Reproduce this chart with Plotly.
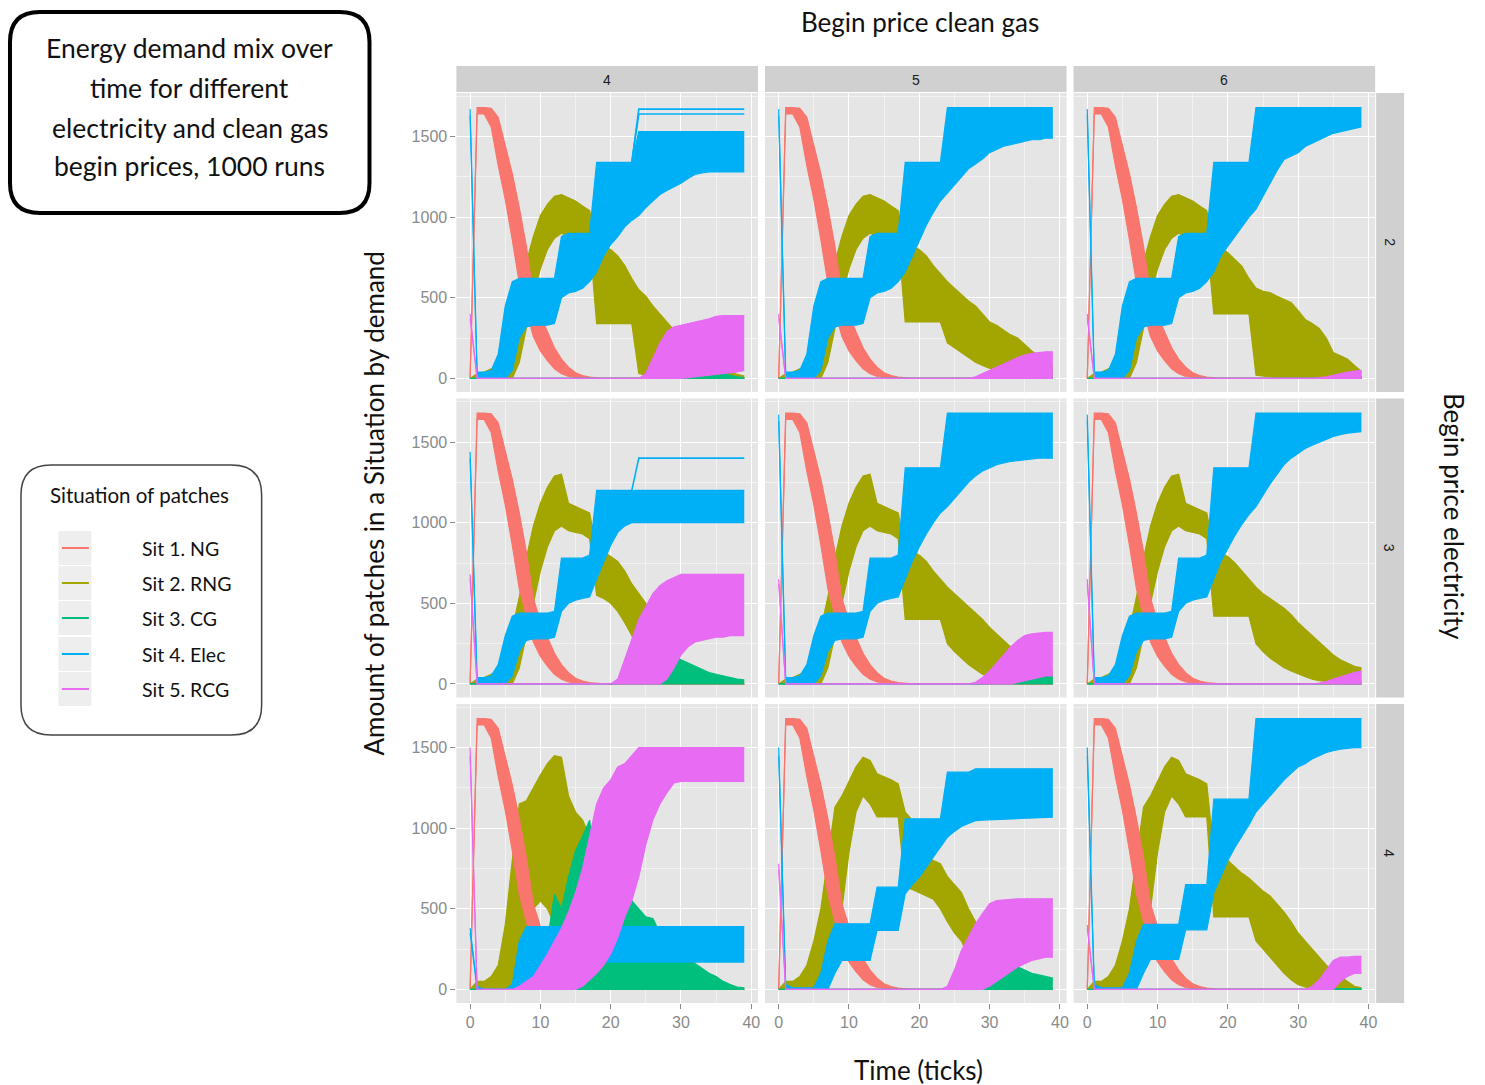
import plotly.graph_objects as go

W, H = 1485, 1085

# ---------------------------------------------------------------- data
TICKS = list(range(40))
ELEC_PRICES = ["2", "3", "4"]          # facet rows
GAS_PRICES = ["4", "5", "6"]           # facet columns
SITUATIONS = ["Sit 1. NG", "Sit 2. RNG", "Sit 3. CG", "Sit 4. Elec", "Sit 5. RCG"]
SIT_KEYS = ["NG", "RNG", "CG", "ELEC", "RCG"]
COLORS = ["#F8766D", "#A3A500", "#00BF7D", "#00B0F6", "#E76BF3"]
DRAW_ORDER = ["RNG", "NG", "CG", "ELEC", "RCG"]
X_TICKS = [0, 10, 20, 30, 40]
Y_TICKS = [0, 500, 1000, 1500]

# Natural gas: same envelope (lowest / highest run) in every panel
NG_HI = [0, 1680, 1680, 1675, 1620, 1450, 1270, 1060, 820, 530,
         390, 290, 190, 120, 70, 35, 18, 8, 2, 0] + [0] * 20
NG_LO = [0, 1640, 1640, 1560, 1320, 1110, 860, 590, 420, 260,
         170, 110, 60, 30, 12, 4, 0, 0, 0, 0] + [0] * 20

# ---- electricity begin price 2: first 18 ticks shared by the columns
E2_ELEC_HI_0 = [1670, 40, 40, 50, 150, 450, 600, 620, 620, 620, 620, 620, 620, 880, 900, 900, 900, 900]
E2_ELEC_LO_0 = [1630, 0, 0, 0, 0, 0, 50, 250, 320, 330, 330, 330, 340, 500, 530, 540, 560, 600]
E2_RNG_HI_0 = [0, 30, 40, 60, 80, 180, 330, 520, 720, 880, 1010, 1080, 1130, 1140, 1120, 1100, 1070, 1040]
E2_RNG_LO_0 = [0, 0, 0, 0, 0, 0, 0, 100, 300, 520, 680, 800, 870, 900, 880, 880, 880, 870]

E2G4_ELEC_HI = E2_ELEC_HI_0 + [1340] * 6 + [1530] * 16
E2G4_ELEC_LO = E2_ELEC_LO_0 + [660, 760, 830, 880, 940, 980,
                               1010, 1060, 1100, 1140, 1165, 1185, 1210, 1240, 1265, 1275,
                               1280, 1280, 1280, 1280, 1280, 1280]
E2G4_ELEC_TOP = [None] * 23 + [1340] + [1670] * 16
E2G4_ELEC_TOP2 = [None] * 23 + [1340] + [1640] * 16
E2G4_RNG_HI = E2_RNG_HI_0 + [830, 820, 800, 760, 700, 620, 550, 510, 450, 400, 350,
                             300, 260, 240, 200, 170, 130, 100, 70, 40, 25, 15]
E2G4_RNG_LO = E2_RNG_LO_0 + [340] * 6 + [30, 20, 10, 5] + [0] * 12
E2G4_CG_HI = [0] * 30 + [20, 30, 40, 50, 60, 50, 40, 20, 10, 5]
E2G4_CG_LO = [0] * 40
E2G4_RCG_HI = [400] + [0] * 24 + [30, 120, 220, 290, 320, 330, 340, 350, 360, 370, 385, 390, 390, 390, 390]
E2G4_RCG_LO = [370] + [0] * 30 + [5, 10, 15, 20, 25, 30, 35, 40, 50]

E2G5_ELEC_HI = E2_ELEC_HI_0 + [1340] * 6 + [1680] * 16
E2G5_ELEC_LO = E2_ELEC_LO_0 + [660, 760, 860, 950, 1030, 1100,
                               1150, 1200, 1250, 1300, 1330, 1360, 1400, 1420, 1440, 1450,
                               1460, 1470, 1480, 1480, 1490, 1490]
E2G5_RNG_HI = E2_RNG_HI_0 + [830, 820, 800, 760, 700, 650, 600, 560, 520, 480, 450,
                             400, 350, 330, 300, 270, 250, 210, 170, 140, 110, 80]
E2G5_RNG_LO = E2_RNG_LO_0 + [350] * 6 + [220, 190, 160, 130, 100, 80, 60, 45, 30, 20, 10, 5] + [0] * 4
E2G5_CG_HI = [0] * 32 + [5, 10, 15, 20, 20, 15, 10, 10]
E2G5_CG_LO = [0] * 40
E2G5_RCG_HI = [400] + [0] * 27 + [10, 30, 50, 70, 90, 110, 130, 145, 155, 160, 165, 165]
E2G5_RCG_LO = [370] + [0] * 39

E2G6_ELEC_HI = E2_ELEC_HI_0 + [1340] * 6 + [1680] * 16
E2G6_ELEC_LO = E2_ELEC_LO_0 + [660, 760, 820, 880, 940, 1000,
                               1050, 1130, 1215, 1290, 1358, 1380, 1400, 1438, 1460, 1480,
                               1500, 1520, 1530, 1540, 1550, 1560]
E2G6_RNG_HI = E2_RNG_HI_0 + [830, 810, 780, 740, 695, 620, 560, 540, 533, 510, 490,
                             471, 420, 366, 340, 310, 250, 161, 140, 120, 80, 43]
E2G6_RNG_LO = E2_RNG_LO_0 + [400] * 6 + [20, 15, 10, 5] + [0] * 12
E2G6_CG_HI = [0] * 33 + [5, 5, 10, 10, 10, 10, 10]
E2G6_CG_LO = [0] * 40
E2G6_RCG_HI = [400] + [0] * 32 + [5, 10, 20, 30, 40, 45, 50]
E2G6_RCG_LO = [370] + [0] * 39

# ---- electricity begin price 3
E3_ELEC_HI_0 = [40, 40, 50, 120, 300, 420, 440, 440, 440, 440, 440, 450, 780, 780, 780, 780, 800]
E3_ELEC_LO_0 = [0, 0, 0, 0, 0, 50, 200, 270, 280, 280, 280, 290, 450, 500, 520, 530, 540]
E3_RNG_HI_0 = [0, 30, 40, 60, 80, 180, 340, 540, 780, 980, 1120, 1220, 1290, 1300, 1120, 1100, 1080, 1060]
E3_RNG_LO_0 = [0, 0, 0, 0, 0, 0, 0, 100, 300, 520, 700, 850, 950, 980, 950, 940, 930, 900]

E3G4_ELEC_HI = [1440] + E3_ELEC_HI_0 + [1200] * 22
E3G4_ELEC_LO = [1400] + E3_ELEC_LO_0 + [650, 760, 860, 940, 980, 1000] + [1000] * 16
E3G4_ELEC_TOP = [None] * 23 + [1200] + [1400] * 16
E3G4_RNG_HI = E3_RNG_HI_0 + [830, 820, 790, 760, 700, 620, 560, 500, 400, 280, 180,
                             120, 80, 60, 50, 40, 30, 20, 15, 10, 5, 0]
E3G4_RNG_LO = E3_RNG_LO_0 + [550, 530, 500, 450, 380, 300, 200, 120, 60, 20] + [0] * 12
E3G4_CG_HI = [0] * 22 + [30, 80, 130, 180, 200, 210, 200, 180, 150, 130, 110, 90, 70, 60, 50, 40, 30, 25]
E3G4_CG_LO = [0] * 40
E3G4_RCG_HI = [680] + [0] * 20 + [30, 150, 280, 400, 480, 560, 610, 640, 660, 680] + [680] * 9
E3G4_RCG_LO = [650] + [0] * 27 + [30, 100, 180, 230, 260, 270, 280, 290, 290, 300, 300, 300]

E3G5_ELEC_HI = [1670] + E3_ELEC_HI_0 + [1340] * 6 + [1680] * 16
E3G5_ELEC_LO = [1630] + E3_ELEC_LO_0 + [650, 760, 850, 930, 1000, 1060,
                                       1100, 1150, 1200, 1250, 1290, 1320, 1340, 1360, 1370, 1380,
                                       1385, 1390, 1395, 1400, 1400, 1400]
E3G5_RNG_HI = E3_RNG_HI_0 + [830, 820, 800, 760, 700, 650, 600, 560, 520, 480, 440,
                             400, 350, 310, 270, 230, 200, 170, 140, 120, 100, 80]
E3G5_RNG_LO = E3_RNG_LO_0 + [400] * 6 + [250, 200, 160, 120, 90, 60, 40, 25, 15, 5] + [0] * 6
E3G5_CG_HI = [0] * 30 + [20, 30, 40, 50, 60, 60, 60, 55, 50, 50]
E3G5_CG_LO = [0] * 40
E3G5_RCG_HI = [650] + [0] * 27 + [10, 40, 80, 130, 180, 230, 270, 300, 310, 315, 320, 320]
E3G5_RCG_LO = [620] + [0] * 33 + [10, 20, 30, 40, 50, 50]

E3G6_ELEC_HI = [1670] + E3_ELEC_HI_0 + [1340] * 6 + [1680] * 16
E3G6_ELEC_LO = [1630] + E3_ELEC_LO_0 + [650, 760, 840, 920, 990, 1050,
                                       1100, 1170, 1240, 1300, 1360, 1400, 1430, 1460, 1480, 1500,
                                       1520, 1535, 1545, 1555, 1560, 1565]
E3G6_RNG_HI = E3_RNG_HI_0 + [830, 810, 790, 750, 700, 650, 600, 560, 530, 500, 470,
                             430, 380, 340, 300, 260, 220, 180, 150, 130, 110, 100]
E3G6_RNG_LO = E3_RNG_LO_0 + [420] * 6 + [250, 200, 160, 130, 100, 80, 60, 45, 30, 20, 15, 10, 5] + [0] * 3
E3G6_CG_HI = [0] * 34 + [5, 5, 10, 10, 10, 10]
E3G6_CG_LO = [0] * 40
E3G6_RCG_HI = [650] + [0] * 32 + [5, 15, 30, 45, 60, 70, 80]
E3G6_RCG_LO = [620] + [0] * 39

# ---- electricity begin price 4
E4G4_ELEC_HI = [380, 20, 0, 0, 0, 0, 30, 300] + [390] * 32
E4G4_ELEC_LO = [350] + [0] * 11 + [30, 60, 100, 130, 150, 165] + [170] * 22
E4G4_RNG_HI = [0, 50, 50, 80, 150, 400, 800, 1150, 1170, 1250,
               1330, 1400, 1450, 1440, 1200, 1100, 1050, 950, 180, 150,
               130, 100, 70, 40, 10] + [0] * 15
E4G4_RNG_LO = [0] * 6 + [20, 150, 350, 500, 550, 500, 400, 250, 100, 30] + [0] * 24
E4G4_CG_HI = ([0] * 10 + [50, 300, 590, 500, 700, 860, 950, 1050, 700, 600]
              + [560, 560, 560, 550, 500, 450, 440, 350, 300, 260]
              + [220, 190, 160, 130, 100, 80, 50, 30, 15, 10])
E4G4_CG_LO = [0] * 40
E4G4_RCG_HI = ([1500] + [0] * 6
               + [20, 50, 80, 150, 220, 300, 380, 480, 600, 750, 950, 1150, 1250, 1300, 1380, 1400, 1450]
               + [1500] * 16)
E4G4_RCG_LO = ([1450] + [0] * 15
               + [20, 60, 100, 150, 220, 320, 450, 550, 700, 900, 1050, 1150, 1220, 1280]
               + [1290] * 10)

E4_RNG_HI_0 = [0, 50, 50, 80, 150, 300, 500, 800, 1130, 1200,
               1290, 1380, 1440, 1420, 1337, 1320, 1300, 1275]
E4_RNG_LO_0 = [0, 0, 0, 0, 0, 0, 0, 80, 250, 500, 850, 1100, 1200, 1150, 1070, 1070, 1070, 1070]

E4G5_ELEC_HI = ([1500, 30, 10, 10, 10, 10, 100, 300, 407, 407,
                 407, 407, 407, 407, 634, 634, 634, 634, 1058, 1058,
                 1058, 1058, 1058, 1058, 1347, 1347, 1347, 1347] + [1368] * 12)
E4G5_ELEC_LO = ([1450, 0, 0, 0, 0, 0, 0, 0, 100, 180,
                 180, 180, 180, 180, 366, 366, 366, 366, 593, 650,
                 696, 760, 820, 880, 944, 980, 1010, 1030, 1047, 1050]
                + [1052, 1055, 1058, 1060, 1062, 1064, 1066, 1068, 1068, 1068])
E4G5_RNG_HI = E4_RNG_HI_0 + [1100, 1050, 900, 820, 800, 780, 700, 650, 600, 500, 420, 300, 100] + [0] * 9
E4G5_RNG_LO = E4_RNG_LO_0 + [630, 620, 600, 580, 560, 500, 420, 350, 300, 200, 100, 20] + [0] * 10
E4G5_CG_HI = [0] * 28 + [30, 60, 80, 100, 110, 130, 140, 120, 100, 90, 80, 70]
E4G5_CG_LO = [0] * 40
E4G5_RCG_HI = [780] + [0] * 23 + [20, 120, 242, 320, 407, 470, 531, 551, 555, 560] + [562] * 6
E4G5_RCG_LO = [740] + [0] * 29 + [20, 50, 80, 110, 140, 160, 180, 190, 200, 200]

E4G6_ELEC_HI = ([1500, 30, 10, 10, 10, 10, 100, 300, 403, 403,
                 403, 403, 403, 403, 650, 650, 650, 650, 1180, 1180,
                 1180, 1180, 1180, 1180] + [1680] * 16)
E4G6_ELEC_LO = ([1450, 0, 0, 0, 0, 0, 0, 0, 100, 186,
                 186, 186, 186, 186, 370, 370, 370, 370]
                + [600, 700, 800, 880, 950, 1020, 1100, 1150, 1200, 1250, 1300,
                   1340, 1380, 1400, 1430, 1450, 1470, 1480, 1490, 1495, 1500, 1500])
E4G6_RNG_HI = E4_RNG_HI_0 + [850, 830, 800, 760, 720, 690, 650, 610, 580, 530, 480,
                             420, 350, 300, 250, 200, 150, 110, 80, 50, 20, 10]
E4G6_RNG_LO = E4_RNG_LO_0 + [450] * 6 + [300, 250, 200, 150, 100, 60, 30, 15] + [0] * 8
E4G6_CG_HI = [0] * 34 + [5, 5, 5, 5, 5, 5]
E4G6_CG_LO = [0] * 40
E4G6_RCG_HI = [400] + [0] * 31 + [20, 60, 120, 180, 200, 200, 205, 205]
E4G6_RCG_LO = [380] + [0] * 35 + [50, 80, 100, 100]

# lookup table: (elec, gas) -> situation -> (lowest run, highest run)
G = globals()
PANELS = {}
for e in ELEC_PRICES:
    for g in GAS_PRICES:
        pre = f"E{e}G{g}_"
        d = {"NG": (NG_LO, NG_HI)}
        for s in SIT_KEYS[1:]:
            d[s] = (G[pre + s + "_LO"], G[pre + s + "_HI"])
        PANELS[(e, g)] = d

# isolated runs sitting apart from the main electricity band
OUTLIERS = {
    ("2", "4"): [E2G4_ELEC_TOP, E2G4_ELEC_TOP2],
    ("3", "4"): [E3G4_ELEC_TOP],
}

# ---------------------------------------------------------------- layout helpers
COL_PX = [(457, 759), (766, 1068), (1075, 1377)]
ROW_PX = [(93, 392), (398.5, 697.5), (704, 1003)]
X_RANGE = [-1.95, 40.95]
Y_RANGE = [-84, 1770]


def fx(px):
    return px / W


def fy(py):
    return 1 - py / H


def rounded_rect(l, t, r, b, rad):
    return (f"M {fx(l + rad)},{fy(t)} L {fx(r - rad)},{fy(t)} "
            f"Q {fx(r)},{fy(t)} {fx(r)},{fy(t + rad)} L {fx(r)},{fy(b - rad)} "
            f"Q {fx(r)},{fy(b)} {fx(r - rad)},{fy(b)} L {fx(l + rad)},{fy(b)} "
            f"Q {fx(l)},{fy(b)} {fx(l)},{fy(b - rad)} L {fx(l)},{fy(t + rad)} "
            f"Q {fx(l)},{fy(t)} {fx(l + rad)},{fy(t)} Z")


def label(text, px, py, size, angle=0, anchor="center", family=None, color="#111111"):
    return dict(text=text, x=fx(px), y=fy(py), xref="paper", yref="paper",
                xanchor=anchor, yanchor="middle", showarrow=False, textangle=angle,
                font=dict(family=family or LABEL_FONT, size=size, color=color))


fig = go.Figure()
layout_axes = {}
shapes = []
annotations = []

TICK_FONT = dict(family="Liberation Sans, Arial, sans-serif", size=16, color="#8A8A8A")
LABEL_FONT = "Lato, Carlito, Open Sans, sans-serif"
STRIP_FONT = "Liberation Sans, Arial, sans-serif"
COLOR_OF = dict(zip(SIT_KEYS, COLORS))

for ri, e in enumerate(ELEC_PRICES):
    for ci, g in enumerate(GAS_PRICES):
        k = ri * 3 + ci + 1
        xa = "x" if k == 1 else f"x{k}"
        ya = "y" if k == 1 else f"y{k}"
        l, r = COL_PX[ci]
        t, b = ROW_PX[ri]
        bottom = ri == 2
        left = ci == 0
        layout_axes["xaxis" if k == 1 else f"xaxis{k}"] = dict(
            domain=[fx(l), fx(r)], range=X_RANGE, anchor=ya,
            tickvals=X_TICKS, showticklabels=bottom,
            ticks="outside" if bottom else "", ticklen=5, tickwidth=1, tickcolor="#8A8A8A",
            showgrid=True, gridcolor="white", gridwidth=1.2,
            minor=dict(tickvals=[5, 15, 25, 35], showgrid=True, gridcolor="#F2F2F2", gridwidth=0.6),
            zeroline=False, showline=False, tickfont=TICK_FONT, fixedrange=True,
        )
        layout_axes["yaxis" if k == 1 else f"yaxis{k}"] = dict(
            domain=[fy(b), fy(t)], range=Y_RANGE, anchor=xa,
            tickvals=Y_TICKS, showticklabels=left,
            ticks="outside" if left else "", ticklen=5, tickwidth=1, tickcolor="#8A8A8A",
            showgrid=True, gridcolor="white", gridwidth=1.2,
            minor=dict(tickvals=[250, 750, 1250, 1750], showgrid=True, gridcolor="#F2F2F2", gridwidth=0.6),
            zeroline=False, showline=False, tickfont=TICK_FONT, fixedrange=True,
        )

        panel = PANELS[(e, g)]
        for s in DRAW_ORDER:
            col = COLOR_OF[s]
            lo, hi = panel[s]
            fig.add_trace(go.Scatter(
                x=TICKS, y=lo, xaxis=xa, yaxis=ya, mode="lines",
                line=dict(color=col, width=1.2), showlegend=False, hoverinfo="skip"))
            fig.add_trace(go.Scatter(
                x=TICKS, y=hi, xaxis=xa, yaxis=ya, mode="lines", fill="tonexty",
                fillcolor=col, line=dict(color=col, width=1.2),
                showlegend=False, hoverinfo="skip"))
            if s == "ELEC":
                for run in OUTLIERS.get((e, g), []):
                    fig.add_trace(go.Scatter(
                        x=TICKS, y=run, xaxis=xa, yaxis=ya, mode="lines",
                        line=dict(color=col, width=1.6), showlegend=False, hoverinfo="skip"))

# facet strips
for ci, g in enumerate(GAS_PRICES):
    l, r = COL_PX[ci]
    shapes.append(dict(type="rect", xref="paper", yref="paper", x0=fx(l), x1=fx(r),
                       y0=fy(92), y1=fy(66), fillcolor="#D0D0D0", line=dict(width=0), layer="below"))
    annotations.append(label(g, (l + r) / 2, 80, 14, family=STRIP_FONT, color="#1A1A1A"))
for ri, e in enumerate(ELEC_PRICES):
    t, b = ROW_PX[ri]
    shapes.append(dict(type="rect", xref="paper", yref="paper", x0=fx(1378), x1=fx(1406),
                       y0=fy(b), y1=fy(t), fillcolor="#D0D0D0", line=dict(width=0), layer="below"))
    annotations.append(label(e, 1391, (t + b) / 2, 14, angle=90, family=STRIP_FONT, color="#1A1A1A"))

# facet / axis titles
annotations += [
    label("Begin price clean gas", 921, 22, 26),
    label("Begin price electricity", 1456, 516, 26, angle=90),
    label("Amount of patches in a Situation by demand", 375, 503, 26, angle=-90),
    label("Time (ticks)", 920, 1070, 26),
]

# title box
shapes.append(dict(type="path", xref="paper", yref="paper", path=rounded_rect(10, 12, 370, 213, 30),
                   line=dict(color="black", width=4), fillcolor="white"))
for line_text, py in zip(["Energy demand mix over", "time for different",
                          "electricity and clean gas", "begin prices, 1000 runs"],
                         [48, 88, 128, 166]):
    annotations.append(label(line_text, 190, py, 26.5))

# legend box
shapes.append(dict(type="path", xref="paper", yref="paper", path=rounded_rect(21, 465, 262, 735, 30),
                   line=dict(color="#444444", width=1.5), fillcolor="white"))
annotations.append(label("Situation of patches", 48, 495, 20.5, anchor="left"))
KEY_Y = [548, 583, 618, 654, 689]
for name, col, py in zip(SITUATIONS, COLORS, KEY_Y):
    shapes.append(dict(type="rect", xref="paper", yref="paper", x0=fx(58), x1=fx(92),
                       y0=fy(py + 17.5), y1=fy(py - 17.5), fillcolor="#EEEEEE",
                       line=dict(color="white", width=1)))
    shapes.append(dict(type="line", xref="paper", yref="paper", x0=fx(62), x1=fx(89),
                       y0=fy(py), y1=fy(py), line=dict(color=col, width=2)))
    annotations.append(label(name, 140, py, 19.5, anchor="left"))

fig.update_layout(
    width=W, height=H, margin=dict(l=0, r=0, t=0, b=0),
    paper_bgcolor="white", plot_bgcolor="#E5E5E5",
    shapes=shapes, annotations=annotations, showlegend=False,
    **layout_axes,
)

fig.write_html("out.html")
